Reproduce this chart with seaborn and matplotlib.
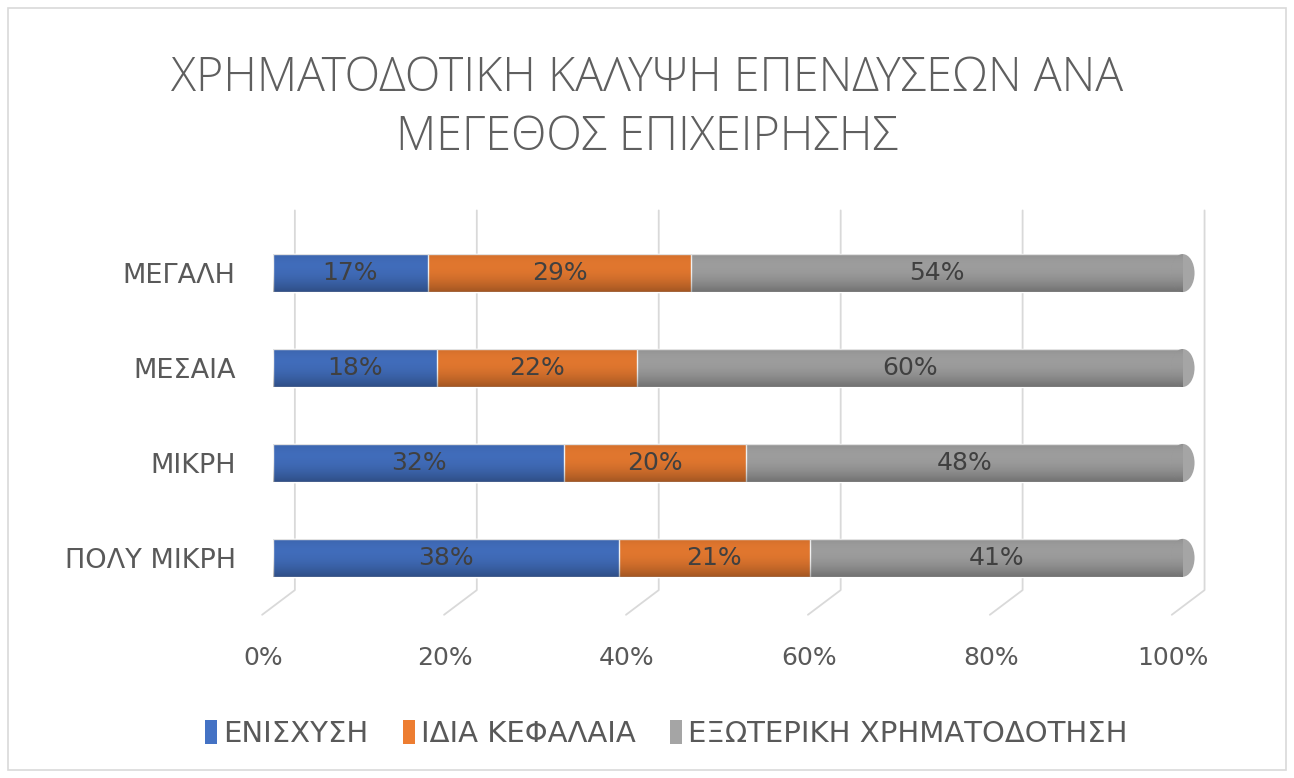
import numpy as np
import pandas as pd
import matplotlib.pyplot as plt
import matplotlib.transforms as mtrans
import seaborn as sns
from matplotlib.patches import Rectangle, Patch, Ellipse

# Δεδομένα
categories = ['ΜΕΓΑΛΗ', 'ΜΕΣΑΙΑ', 'ΜΙΚΡΗ', 'ΠΟΛΥ ΜΙΚΡΗ']
enisxysi = [17, 18, 32, 38]
idia_kefalaia = [29, 22, 20, 21]
exoteriki = [54, 60, 48, 41]
series_names = ['ΕΝΙΣΧΥΣΗ', 'ΙΔΙΑ ΚΕΦΑΛΑΙΑ', 'ΕΞΩΤΕΡΙΚΗ ΧΡΗΜΑΤΟΔΟΤΗΣΗ']
colors = ['#4472C4', '#ED7D31', '#A5A5A5']
x_ticks = [0, 20, 40, 60, 80, 100]

df = pd.DataFrame({'cat': categories, 's1': enisxysi, 's2': idia_kefalaia, 's3': exoteriki})
df['c1'] = df['s1']
df['c2'] = df['s1'] + df['s2']
df['c3'] = df['c2'] + df['s3']

sns.set_style('white')
plt.rcParams['font.family'] = ['DejaVu Sans']
text_col = '#595959'
bar_h = 0.4

fig = plt.figure(figsize=(12.94, 7.78), dpi=100)
ax = fig.add_axes([0.211, 0.222, 0.703, 0.488])

# πλέγμα "πίσω τοίχου" με λοξές γραμμές δαπέδου (εφέ 3Δ)
for t in x_ticks:
    ax.plot([t + 2.4, t + 2.4, t - 1.2], [-0.66, 3.34, 3.6], color='#D9D9D9',
            linewidth=1.3, zorder=0, clip_on=False)

# στοιβαγμένες μπάρες: πρώτα το σύνολο, μετά τα μικρότερα
for col, color in zip(['c3', 'c2', 'c1'], colors[::-1]):
    sns.barplot(data=df, x=col, y='cat', orient='h', color=color, width=bar_h,
                saturation=1, ax=ax, zorder=3)

# σκίαση κυλίνδρου
t = np.linspace(0, 1, 60)
alpha = 0.32 * t ** 2.2 + 0.12 * (1 - t) ** 4
grad = np.zeros((60, 1, 4))
grad[:, 0, 3] = alpha
cap_w = 2.6
for i, total in enumerate(df['c3']):
    ax.imshow(grad, extent=(0, total, i + bar_h / 2, i - bar_h / 2), aspect='auto',
              zorder=3.5, interpolation='bilinear')
    # στρογγυλεμένο άκρο
    cap = Ellipse((total, i), cap_w, bar_h, facecolor=colors[2],
                  edgecolor='none', zorder=3.6, clip_on=False)
    ax.add_patch(cap)
    im = ax.imshow(grad, extent=(total - cap_w / 2, total + cap_w / 2, i + bar_h / 2, i - bar_h / 2),
                   aspect='auto', zorder=3.7, interpolation='bilinear', clip_on=True)
    im.set_clip_path(cap)

ax.set_xlim(0, 100)
ax.set_ylim(3.5, -0.5)

# ετικέτες τιμών
for i, row in df.iterrows():
    starts = [0, row['c1'], row['c2']]
    for start, val in zip(starts, [row['s1'], row['s2'], row['s3']]):
        ax.text(start + val / 2, i, f'{val}%', ha='center', va='center',
                fontsize=18, color='#404040', zorder=5)

ax.set_xticks(x_ticks)
ax.set_xticklabels([f'{v}%' for v in x_ticks], fontsize=18, color=text_col)
ax.tick_params(axis='x', pad=29, length=0)
ax.tick_params(axis='y', pad=27, length=0, labelsize=19.5, labelcolor=text_col)
shift = mtrans.ScaledTranslation(-0.1, 0, fig.dpi_scale_trans)
for lbl in ax.get_xticklabels():
    lbl.set_transform(lbl.get_transform() + shift)
ax.set_xlabel('')
ax.set_ylabel('')
ax.grid(False)
for s in ax.spines.values():
    s.set_visible(False)

fig.suptitle('ΧΡΗΜΑΤΟΔΟΤΙΚΗ ΚΑΛΥΨΗ ΕΠΕΝΔΥΣΕΩΝ ΑΝΑ\nΜΕΓΕΘΟΣ ΕΠΙΧΕΙΡΗΣΗΣ',
             fontsize=33.5, color='#5f5f5f', y=0.93, linespacing=1.3,
             family=['Open Sans', 'DejaVu Sans'], fontweight='light')

handles = [Patch(facecolor=c, edgecolor='none') for c in colors]
fig.legend(handles, series_names, loc='center', bbox_to_anchor=(0.515, 0.057),
           ncol=3, frameon=False, fontsize=21, handlelength=0.4, handleheight=0.9,
           handletextpad=0.2, columnspacing=1.2, labelcolor=text_col)

# περίγραμμα γραφήματος
fig.patches.append(Rectangle((0.006, 0.01), 0.988, 0.98, transform=fig.transFigure,
                             fill=False, edgecolor='#D9D9D9', linewidth=1.2))

plt.savefig('out.png', dpi=100)
